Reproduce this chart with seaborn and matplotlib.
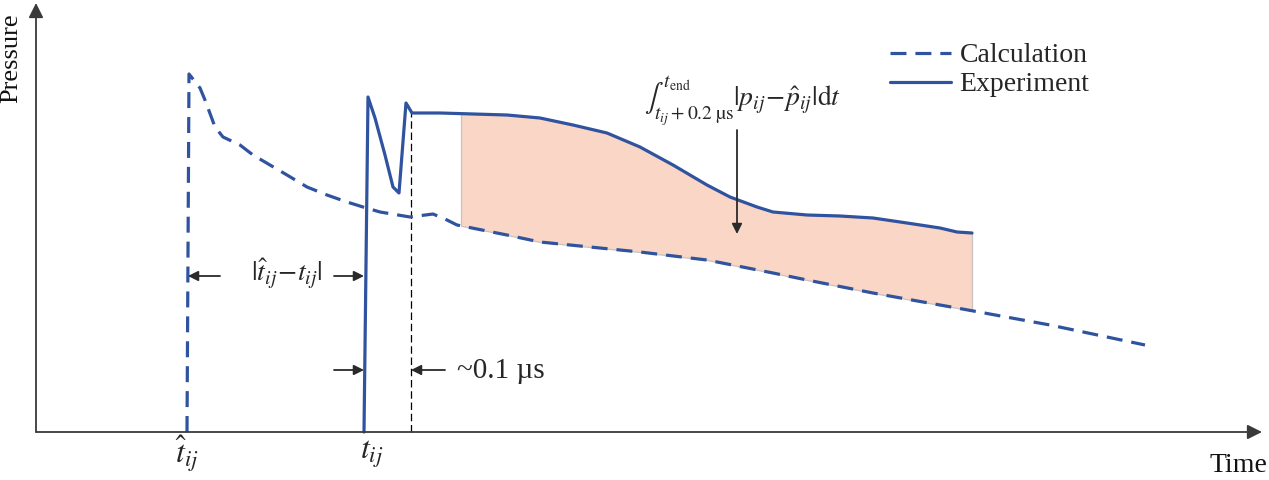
import numpy as np
import matplotlib
matplotlib.use("Agg")
import matplotlib.pyplot as plt
import seaborn as sns
import pandas as pd

# schematic values (time, pressure in arbitrary units)
calc_time = [151, 153, 164, 169, 179, 187, 204, 217, 234, 251, 271, 291, 311, 327,
             344, 374, 397, 411, 421, 471, 504, 604, 671, 737, 771, 837, 887, 921,
             1014, 1109]
calc_pressure = [0, 358, 344, 332, 305, 295, 287, 277, 267, 257, 245, 237, 230, 225,
                 220, 215, 218, 212, 207, 197, 190, 180, 172, 159, 152, 139, 130, 124,
                 107, 87]

exp_time = [328, 332, 339, 349, 357, 363, 370, 376, 404, 471, 504, 537, 571, 604,
            637, 671, 694, 721, 737, 771, 804, 837, 871, 904, 921, 936]
exp_pressure = [0, 335, 314, 277, 245, 239, 329, 319, 319, 317, 314, 307, 299, 285,
                267, 247, 235, 225, 220, 217, 216, 214, 209, 204, 200, 199]

t_hat = 151       # calculated arrival
t_exp = 328       # measured arrival
t_shift = 375     # t_ij + ~0.1 us
t_fill0, t_fill1 = 425, 936
t_max, p_max = 1226, 429

sns.set_theme(style="white")
plt.rcParams["font.family"] = ["Liberation Serif", "DejaVu Serif"]
plt.rcParams["mathtext.fontset"] = "stix"

blue = "#2F539F"
ink = "#2A2A2A"

fig = plt.figure(figsize=(12.69, 4.8), dpi=100)
ax = fig.add_axes([0, 0, 1, 1])
ax.set_xlim(-36, 1233)
ax.set_ylim(-48, 432)
ax.axis("off")

calc = pd.DataFrame({"t": calc_time, "p": calc_pressure})
exp = pd.DataFrame({"t": exp_time, "p": exp_pressure})

# shaded integral area
grid = np.linspace(t_fill0, t_fill1, 300)
upper = np.interp(grid, exp_time[7:], exp_pressure[7:])
lower = np.interp(grid, calc_time[17:], calc_pressure[17:])
ax.fill_between(grid, lower, upper, facecolor="#F9D6C5", edgecolor="#C9C2C0",
                lw=0.9, zorder=1)

sns.lineplot(data=calc, x="t", y="p", sort=False, estimator=None, ax=ax,
             color=blue, lw=2.3, label="Calculation", zorder=3)
ax.lines[-1].set_dashes((5, 2.8))
sns.lineplot(data=exp, x="t", y="p", sort=False, estimator=None, ax=ax,
             color=blue, lw=2.3, label="Experiment", zorder=3)
for ln in ax.lines:
    ln.set_solid_joinstyle("round")
    ln.set_dash_joinstyle("round")

# thin black dashed marker
ax.plot([t_shift, t_shift], [0, exp_pressure[8]], color="black", lw=0.9,
        dashes=(6, 3), zorder=2)

# axes with arrow heads
ax.annotate("", xy=(t_max, 0), xytext=(0, 0),
            arrowprops=dict(arrowstyle="-|>", color="#3A3A3A", lw=1.3,
                            mutation_scale=22, shrinkA=0, shrinkB=0))
ax.annotate("", xy=(0, p_max), xytext=(0, 0),
            arrowprops=dict(arrowstyle="-|>", color="#3A3A3A", lw=1.3,
                            mutation_scale=22, shrinkA=0, shrinkB=0))
ax.text(t_max + 5, -33, "Time", fontsize=20, ha="right", va="center", color="#111")
ax.text(-25, p_max - 55, "Pressure", fontsize=19, rotation=90, ha="center",
        va="center", color="#111")

# tick-like labels
ax.text(t_hat, -22, r"$\hat{t}_{ij}$", fontsize=23, ha="center", va="center")
ax.text(t_exp + 8, -22, r"$t_{ij}$", fontsize=23, ha="center", va="center")

arrow = dict(arrowstyle="-|>", color=ink, lw=1.3, mutation_scale=15,
             shrinkA=0, shrinkB=0)
# |t_hat - t| marker
ax.annotate("", xy=(t_hat + 1, 156), xytext=(t_hat + 33, 156), arrowprops=arrow)
ax.annotate("", xy=(t_exp, 156), xytext=(t_exp - 30, 156), arrowprops=arrow)
ax.text((t_hat + t_exp) / 2 + 11, 158, r"$|\hat{t}_{ij}\!-\!t_{ij}|$", fontsize=20,
        ha="center", va="center")

# ~0.1 us marker
ax.annotate("", xy=(t_exp, 62), xytext=(t_exp - 30, 62), arrowprops=arrow)
ax.annotate("", xy=(t_shift, 62), xytext=(t_shift + 34, 62), arrowprops=arrow)
ax.text(t_shift + 46, 61, "~0.1 µs", fontsize=21, ha="left", va="center")

# integral label
ax.text(608, 330, r"$\int_{t_{ij}+0.2\ \mathrm{µs}}^{t_\mathrm{end}}|p_{ij}\!-\!\hat{p}_{ij}|\mathrm{d}t$",
        fontsize=20, ha="left", va="center")
ax.annotate("", xy=(701, 198), xytext=(701, 302), arrowprops=arrow)

leg = ax.legend(loc="upper left", bbox_to_anchor=(890 / 1269, 1 - 43 / 480),
                frameon=False, fontsize=20, handlelength=2.2, handletextpad=0.3,
                borderpad=0, borderaxespad=0, labelspacing=0.12)
leg.get_lines()[0].set_dashes((5, 2.8))

fig.savefig("out.png", dpi=100)
